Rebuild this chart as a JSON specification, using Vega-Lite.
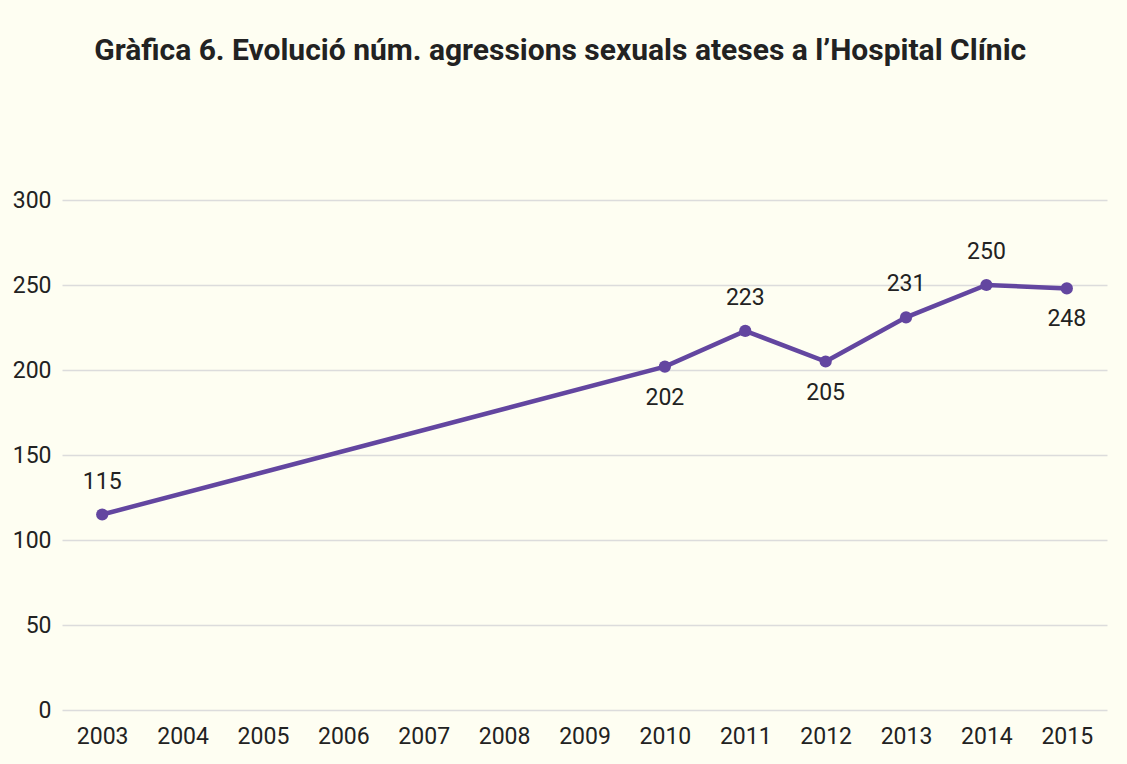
{
  "$schema": "https://vega.github.io/schema/vega-lite/v6.json",
  "autosize": "none",
  "width": 1045,
  "height": 510,
  "padding": {"left": 62, "top": 200, "right": 20, "bottom": 54},
  "background": "#fefef2",
  "config": {
    "view": {"stroke": null},
    "font": "Roboto",
    "axis": {"labelFont": "Roboto", "labelFontSize": 23, "labelColor": "#222222"}
  },
  "title": {
    "text": "Gràfica 6. Evolució núm. agressions sexuals ateses a l’Hospital Clínic",
    "font": "Roboto",
    "fontSize": 30,
    "fontWeight": "bold",
    "color": "#222222",
    "anchor": "start",
    "dx": 82,
    "offset": 123
  },
  "data": {
    "values": [
      {"year": "2003", "value": 115},
      {"year": "2004", "value": null},
      {"year": "2005", "value": null},
      {"year": "2006", "value": null},
      {"year": "2007", "value": null},
      {"year": "2008", "value": null},
      {"year": "2009", "value": null},
      {"year": "2010", "value": 202},
      {"year": "2011", "value": 223},
      {"year": "2012", "value": 205},
      {"year": "2013", "value": 231},
      {"year": "2014", "value": 250},
      {"year": "2015", "value": 248}
    ]
  },
  "encoding": {
    "x": {
      "field": "year",
      "type": "ordinal",
      "scale": {"type": "point", "padding": 0.5, "domain": ["2003","2004","2005","2006","2007","2008","2009","2010","2011","2012","2013","2014","2015"]},
      "axis": {"title": null, "labelAngle": 0, "domain": false, "ticks": false, "labelPadding": 15, "grid": false}
    },
    "y": {
      "field": "value",
      "type": "quantitative",
      "scale": {"domain": [0, 300], "nice": false},
      "axis": {"title": null, "values": [0, 50, 100, 150, 200, 250, 300], "domain": false, "ticks": false, "labelPadding": 11, "gridColor": "#dcdcdc", "gridWidth": 1.5}
    }
  },
  "layer": [
    {
      "transform": [{"filter": "datum.value != null"}],
      "mark": {"type": "line", "color": "#6346a0", "strokeWidth": 4.5, "point": {"filled": true, "size": 150, "color": "#6346a0"}}
    },
    {
      "transform": [{"filter": "datum.value != null && indexof(['2010','2012','2015'], datum.year) < 0"}],
      "mark": {"type": "text", "fontSize": 23, "color": "#222222", "dy": -33, "baseline": "middle", "font": "Roboto"},
      "encoding": {"text": {"field": "value", "type": "quantitative"}}
    },
    {
      "transform": [{"filter": "indexof(['2010','2012','2015'], datum.year) >= 0"}],
      "mark": {"type": "text", "fontSize": 23, "color": "#222222", "dy": 31, "baseline": "middle", "font": "Roboto"},
      "encoding": {"text": {"field": "value", "type": "quantitative"}}
    }
  ]
}
